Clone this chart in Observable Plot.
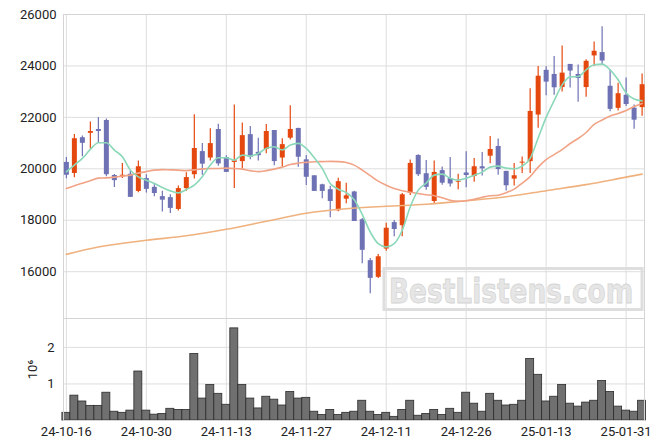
<!DOCTYPE html>
<html><head><meta charset="utf-8">
<script src="https://cdn.jsdelivr.net/npm/d3@7"></script>
<script src="https://cdn.jsdelivr.net/npm/@observablehq/plot@0.6"></script>
<style>
body{margin:0;background:#fff;}
#chart{position:relative;width:663px;height:448px;overflow:hidden;}
#chart svg{display:block;}
</style>
</head><body><div id="chart"></div>
<script>
const dates = ["24-10-16","24-10-17","24-10-18","24-10-21","24-10-22","24-10-23","24-10-24","24-10-25","24-10-28","24-10-29",
"24-10-30","24-10-31","24-11-01","24-11-04","24-11-05","24-11-06","24-11-07","24-11-08","24-11-11","24-11-12",
"24-11-13","24-11-14","24-11-15","24-11-18","24-11-19","24-11-20","24-11-21","24-11-22","24-11-25","24-11-26",
"24-11-27","24-11-28","24-11-29","24-12-02","24-12-03","24-12-04","24-12-05","24-12-06","24-12-09","24-12-10",
"24-12-11","24-12-12","24-12-13","24-12-16","24-12-17","24-12-18","24-12-19","24-12-20","24-12-23","24-12-24",
"24-12-26","24-12-27","24-12-30","25-01-02","25-01-03","25-01-06","25-01-07","25-01-08","25-01-09","25-01-10",
"25-01-13","25-01-14","25-01-15","25-01-16","25-01-17","25-01-20","25-01-21","25-01-22","25-01-23","25-01-24",
"25-01-31","25-02-03","25-02-04"];

const opens = [20230,19800,21190,21360,21510,21860,19720,19690,19770,19100,
19600,19260,18900,18860,18400,19210,19750,20650,20400,21510,
20420,20230,20260,21310,20620,20730,21470,20400,21170,21550,
20330,19710,19360,19170,18350,18800,19080,18000,16410,15760,
16860,17890,17770,19030,20500,19790,18710,19910,19600,19460,
19820,19680,20060,20470,20850,19880,19580,20200,20260,22070,
23810,23650,23140,24040,23650,23140,24370,24500,23190,22330,
22840,22340,22360];
const highs = [20440,21330,21280,21820,22000,21940,19780,20210,19920,20300,
19770,19380,19130,18990,19330,19850,22100,20980,21560,21730,
20510,22480,21780,21650,21190,21720,21490,21170,22450,21580,
20520,19720,19400,19320,19630,19440,19130,18070,16510,16670,
17880,17990,19040,20340,20550,20320,20300,20070,20440,19790,
20660,20400,20630,21260,21160,19910,20210,20460,23110,23980,
23970,24370,24780,24040,24040,24240,24930,25520,23850,23330,
23530,22480,23690];
const lows = [19610,19650,20470,20760,20990,19690,19270,19620,18880,19070,
19060,18910,18320,18260,18360,19130,19600,19750,20300,20100,
19860,19230,19990,20350,20300,20590,20120,20070,21120,20060,
19350,19120,18840,18100,18330,18640,17960,16310,15140,15740,
16790,17360,17360,18960,19700,19170,18650,19360,19290,19190,
19260,19480,19720,20200,19750,19140,19330,19820,19820,21580,
22840,22860,22990,23140,22590,22780,23980,24040,22220,22250,
22420,21540,22040];
const closes = [19770,21190,21010,21470,21470,19790,19560,19770,18910,20100,
19220,19060,18800,18480,19250,19680,20810,20200,21000,20210,
19880,20330,21310,20470,20530,21470,20300,20960,21550,20470,
19690,19140,19140,18750,19520,18970,17970,16850,15760,16600,
17710,17660,19010,20230,19790,19300,19880,19460,19430,19530,
19760,20100,20020,20770,19990,19360,19750,20280,22250,23620,
23390,23170,23740,23820,23530,24200,24590,24210,22330,22940,
22520,21910,23290];
const volumes = [0.21,0.68,0.52,0.40,0.40,0.76,0.24,0.21,0.27,1.34,
0.27,0.16,0.18,0.32,0.29,0.29,1.82,0.60,0.97,0.73,
0.43,2.52,0.97,0.60,0.33,0.65,0.57,0.41,0.78,0.60,
0.62,0.24,0.15,0.29,0.15,0.21,0.24,0.54,0.24,0.15,
0.21,0.10,0.29,0.54,0.13,0.18,0.29,0.15,0.32,0.21,
0.76,0.46,0.24,0.73,0.54,0.41,0.43,0.54,1.68,1.25,
0.52,0.65,0.97,0.46,0.38,0.49,0.54,1.08,0.78,0.38,
0.27,0.24,0.54];
const ma5 = [19883,20144,20405,20757,21014,21014,20729,20468,19949,19688,
19559,19430,19274,19142,19064,19196,19364,19688,20144,20430,
20430,20339,20534,20495,20600,20795,20858,20729,20924,20990,
20795,20430,20015,19430,19208,19080,18800,18230,17543,17090,
16958,17090,17610,18518,19170,19442,19754,19793,19637,19559,
19637,19754,19871,20066,20105,20027,20000,20105,20405,21200,
22000,22650,23264,23576,23588,23849,24044,24072,23849,23460,
22950,22718,22640];
const ma20 = [19235,19345,19442,19540,19637,19649,19676,19715,19754,19832,
19890,19949,19970,19960,19949,19930,19960,19996,20015,20015,
20027,20015,19988,19930,19890,19930,19988,20066,20164,20222,
20250,20273,20281,20289,20281,20242,20144,19949,19735,19520,
19364,19235,19150,19091,19040,18994,18955,18877,18780,18740,
18760,18818,18896,18955,18974,19072,19208,19442,19696,20066,
20359,20554,20749,20983,21178,21412,21724,21899,22055,22152,
22270,22426,22543];
const ma60Idx = [0,4,10,15,20,25,30,35,40,45,50,55,60,65,70,72];
const ma60Val = [16673,16958,17220,17395,17650,17961,18273,18448,18545,18623,18760,18916,19150,19384,19676,19793];
const priceTicks = [16000,18000,20000,22000,24000,26000];
const volTicks = [1,2];

const UP = "#e5480f", DOWN = "#6e72b4";
const C5 = "#8bd8b9", C20 = "#f1a386", C60 = "#efb17e";
const GRID = "#dedede";

const candles = dates.map((d, i) => ({
  i, date: d, open: opens[i], high: highs[i], low: lows[i], close: closes[i],
  vol: volumes[i] * 1e6, ma5: ma5[i], ma20: ma20[i]
}));
const ma60 = ma60Idx.map((i, k) => ({i, v: ma60Val[k]}));
const col = d => d.close >= d.open ? UP : DOWN;
const xDomain = [-0.36, 72.3];
const xTicks = d3.range(0, dates.length, 10);
const font = {fontFamily: "Roboto, 'Noto Sans', sans-serif", fontSize: "13px", color: "#222", background: "white", overflow: "visible"};

const price = Plot.plot({
  width: 663, height: 318, marginTop: 14, marginBottom: 0, marginLeft: 63, marginRight: 19,
  style: font,
  x: {domain: xDomain, axis: null},
  y: {domain: [14180, 26000], ticks: priceTicks, tickFormat: d => String(d), tickSize: 0, tickPadding: 7, label: null},
  color: {type: "identity"},
  marks: [
    Plot.gridX(xTicks, {stroke: GRID, strokeOpacity: 1}),
    Plot.gridY(priceTicks, {stroke: GRID, strokeOpacity: 1}),
    Plot.frame({stroke: "#d4d4d4"}),
    Plot.ruleX(candles, {x: "i", y1: "low", y2: "high", stroke: col, strokeWidth: 1.2}),
    Plot.ruleX(candles, {x: "i", y1: "open", y2: "close", stroke: col, strokeWidth: 5, insetTop: -0.5, insetBottom: -0.5}),
    Plot.line(ma60, {x: "i", y: "v", stroke: C60, strokeWidth: 1.6, curve: "monotone-x"}),
    Plot.line(candles, {x: "i", y: "ma20", stroke: C20, strokeWidth: 1.6, curve: "monotone-x"}),
    Plot.line(candles, {x: "i", y: "ma5", stroke: C5, strokeWidth: 1.6, curve: "monotone-x"})
  ]
});

const vol = Plot.plot({
  width: 663, height: 130, marginTop: 0, marginBottom: 28, marginLeft: 63, marginRight: 19,
  style: font,
  x: {domain: xDomain, ticks: xTicks, tickFormat: i => dates[i], tickSize: 0, tickPadding: 6, label: null},
  y: {domain: [0, 2.79e6], ticks: volTicks.map(v => v * 1e6), tickFormat: d => String(d / 1e6), tickSize: 0, tickPadding: 9,
      label: "10⁶", labelAnchor: "center", labelOffset: 36, labelArrow: "none"},
  marks: [
    Plot.gridX(xTicks, {stroke: GRID, strokeOpacity: 1}),
    Plot.gridY(volTicks.map(v => v * 1e6), {stroke: GRID, strokeOpacity: 1}),
    Plot.rectY(candles, {x1: d => d.i - 0.5, x2: d => d.i + 0.5, y: "vol", fill: "#707070", stroke: "#2b2b2b", strokeWidth: 0.8}),
    Plot.frame({stroke: "#d4d4d4"})
  ]
});

const chart = document.getElementById("chart");
chart.appendChild(price);
chart.appendChild(vol);

// watermark (decoration)
const wm = d3.select(price).append("g").attr("class", "watermark").attr("text-anchor", "start");
wm.append("rect").attr("x", 384).attr("y", 268.5).attr("width", 258).attr("height", 41)
  .attr("fill", "none").attr("stroke", "#dedede").attr("stroke-width", 3);
wm.append("text").attr("transform", "translate(389,303) scale(0.8,1)").attr("text-anchor", "start").text("BestListens.com")
  .attr("font-family", "'DejaVu Sans', sans-serif").attr("font-weight", "bold").attr("font-size", 33)
  .attr("fill", "#e6e6e6").attr("stroke", "#d4d4d4").attr("stroke-width", 0.8);
</script>
</body></html>
